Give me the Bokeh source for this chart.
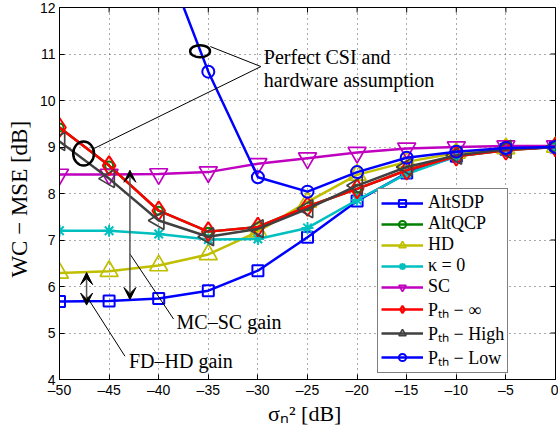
from bokeh.plotting import figure
from bokeh.models import (ColumnDataSource, Legend, LegendItem, Range1d,
                          FixedTicker, Arrow, VeeHead, Label)
from bokeh.embed import file_html
from bokeh.resources import INLINE
import math

x = [-50, -45, -40, -35, -30, -25, -20, -15, -10, -5, 0]
alt_sdp = [5.68, 5.69, 5.74, 5.91, 6.34, 7.06, 7.84, 8.44, 8.80, 8.95, 9.00]
alt_qcp = [9.42, 8.60, 7.63, 7.18, 7.28, 7.72, 8.10, 8.50, 8.80, 8.93, 9.00]
hd = [6.29, 6.33, 6.45, 6.69, 7.18, 7.82, 8.40, 8.68, 8.87, 8.97, 9.00]
kappa0 = [7.20, 7.20, 7.13, 7.01, 7.02, 7.26, 7.86, 8.42, 8.80, 8.95, 9.00]
sc = [8.41, 8.41, 8.42, 8.46, 8.64, 8.76, 8.88, 8.97, 9.00, 9.02, 9.02]
pth_inf = [9.42, 8.60, 7.63, 7.18, 7.28, 7.72, 8.10, 8.50, 8.80, 8.93, 9.00]
pth_high = [9.12, 8.32, 7.42, 7.07, 7.24, 7.67, 8.17, 8.57, 8.82, 8.95, 9.00]
pth_low = [16.0, 14.8, 13.4, 10.62, 8.35, 8.04, 8.46, 8.77, 8.90, 8.98, 9.00]

x_ticks = [-50, -45, -40, -35, -30, -25, -20, -15, -10, -5, 0]
y_ticks = [4, 5, 6, 7, 8, 9, 10, 11, 12]

# name, values, colour, marker, marker angle, marker size, marker line width
series = [
    ("AltSDP", alt_sdp, "#0000ff", "square", 0.0, 11, 2),
    ("AltQCP", alt_qcp, "#008000", "circle", 0.0, 8, 2),
    ("HD", hd, "#bfbf00", "triangle", 0.0, 18, 1.7),
    ("κ = 0", kappa0, "#00bfbf", "asterisk", 0.0, 12, 2),
    ("SC", sc, "#bf00bf", "inverted_triangle", 0.0, 18, 1.7),
    ("Pₜₕ − ∞", pth_inf, "#ff0000", "diamond", 0.0, 19, 2),
    ("Pₜₕ − High", pth_high, "#404040", "triangle", math.pi / 2, 18, 1.7),
    ("Pₜₕ − Low", pth_low, "#0000ff", "circle", 0.0, 12, 2),
]
draw_order = [1, 0, 2, 3, 4, 5, 6, 7]

# annotation positions (data units)
ell_x = [-35.83, -47.57]
ell_y = [11.06, 8.86]
ell_w = [2.0, 2.1]
ell_h = [0.26, 0.52]
lead_x0 = [-29.7, -29.7, -42.9, -47.3]
lead_y0 = [10.73, 10.73, 6.7, 5.8]
lead_x1 = [-34.8, -46.5, -38.5, -43.4]
lead_y1 = [11.16, 8.97, 5.3, 4.5]

p = figure(width=558, height=434, output_backend="svg", toolbar_location=None,
           x_range=Range1d(-50, 0), y_range=Range1d(4, 12),
           min_border_left=59, min_border_right=3, min_border_top=7, min_border_bottom=55)
p.background_fill_color = "white"
p.border_fill_color = "white"
p.outline_line_color = "black"
p.outline_line_width = 1

sans = "Liberation Sans"
serif = "Liberation Serif"

for ax in (p.xaxis[0], p.yaxis[0]):
    ax.major_tick_in = 5
    ax.major_tick_out = 0
    ax.minor_tick_in = 0
    ax.minor_tick_out = 0
    ax.axis_line_color = "black"
    ax.major_label_text_font = sans
    ax.major_label_text_font_size = "14px"
    ax.major_label_text_color = "black"
    ax.axis_label_text_font = serif
    ax.axis_label_text_font_style = "normal"
    ax.axis_label_text_color = "black"

p.xaxis.ticker = FixedTicker(ticks=x_ticks)
p.yaxis.ticker = FixedTicker(ticks=y_ticks)
p.xaxis.major_label_overrides = {t: ("–" + str(-t) if t < 0 else str(t)) for t in x_ticks}
p.xaxis.axis_label = "σₙ²  [dB]"
p.yaxis.axis_label = "WC − MSE   [dB]"
p.xaxis.axis_label_text_font_size = "22px"
p.yaxis.axis_label_text_font_size = "23px"
p.xaxis.major_label_standoff = 2
p.yaxis.major_label_standoff = 4
p.xaxis.axis_label_standoff = 0
p.yaxis.axis_label_standoff = 5

p.xgrid.ticker = FixedTicker(ticks=x_ticks)
p.ygrid.ticker = FixedTicker(ticks=y_ticks)
for g in (p.xgrid[0], p.ygrid[0]):
    g.grid_line_color = "#555555"
    g.grid_line_dash = "1 4"
    g.grid_line_width = 1

# mirrored tick marks on the right and top edges (clipped to the frame)
p.scatter(x=[x_ticks[-1]] * len(y_ticks), y=y_ticks, marker="dash", size=10,
          line_color="black", line_width=1)
p.scatter(x=x_ticks, y=[y_ticks[-1]] * len(x_ticks), marker="dash", angle=math.pi / 2,
          size=10, line_color="black", line_width=1)

items = [None] * len(series)
for i in draw_order:
    name, ys, color, marker, ang, sz, lw = series[i]
    src = ColumnDataSource(dict(x=x, y=ys))
    r1 = p.line("x", "y", source=src, line_color=color, line_width=2.5)
    r2 = p.scatter("x", "y", source=src, marker=marker, size=sz, angle=ang,
                   line_color=color,
                   fill_color=None if marker != "asterisk" else color, line_width=lw)
    items[i] = LegendItem(label=name, renderers=[r1, r2])

# annotations
p.ellipse(x=ell_x, y=ell_y, width=ell_w, height=ell_h, fill_color=None,
          line_color="black", line_width=2.5)
p.segment(x0=lead_x0, y0=lead_y0, x1=lead_x1, y1=lead_y1, line_color="black", line_width=1)

p.add_layout(Arrow(end=VeeHead(size=12, fill_color="black", line_color="black"),
                   start=VeeHead(size=12, fill_color="black", line_color="black"),
                   x_start=-42.9, y_start=5.72, x_end=-42.9, y_end=8.5,
                   line_color="#555555", line_width=1.5))
p.add_layout(Arrow(end=VeeHead(size=12, fill_color="black", line_color="black"),
                   start=VeeHead(size=12, fill_color="black", line_color="black"),
                   x_start=-47.27, y_start=5.6, x_end=-47.27, y_end=6.3,
                   line_color="#555555", line_width=1.5))

txt = dict(text_font=serif, text_font_size="20px", text_color="black",
           text_baseline="middle", text_align="left")
p.add_layout(Label(x=-29.4, y=10.93, text="Perfect CSI and", **txt))
p.add_layout(Label(x=-29.4, y=10.44, text="hardware assumption", **txt))
p.add_layout(Label(x=-38.2, y=5.23, text="MC–SC gain", **txt))
p.add_layout(Label(x=-43.0, y=4.4, text="FD–HD gain", **txt))

legend = Legend(items=items, location=(318, 6))
legend.label_text_font = serif
legend.label_text_font_size = "18px"
legend.label_text_color = "black"
legend.glyph_width = 42
legend.glyph_height = 18
legend.label_height = 18
legend.spacing = 0
legend.padding = 3
legend.margin = 0
legend.label_standoff = 5
legend.border_line_color = "black"
legend.border_line_width = 1.5
legend.background_fill_alpha = 1
p.add_layout(legend)

open("out.html", "w").write(file_html(p, INLINE))
